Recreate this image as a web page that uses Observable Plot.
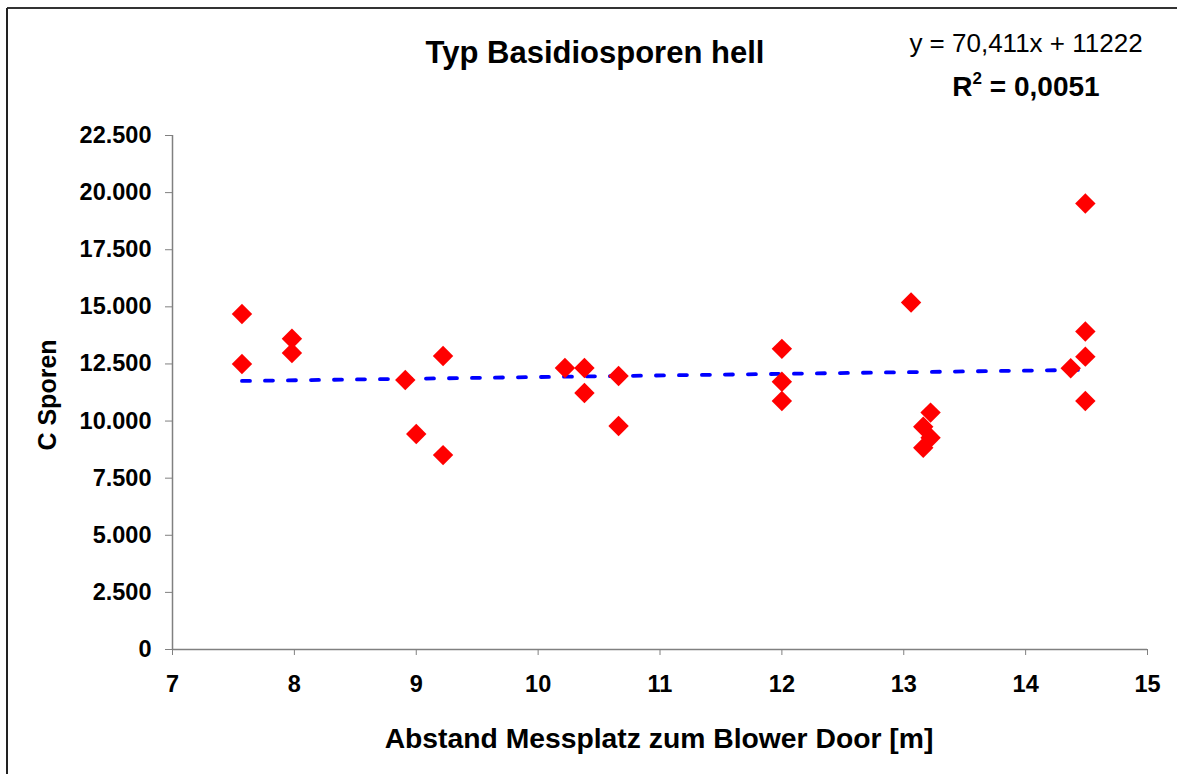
<!DOCTYPE html>
<html>
<head>
<meta charset="utf-8">
<script src="https://cdn.jsdelivr.net/npm/d3@7"></script>
<script src="https://cdn.jsdelivr.net/npm/@observablehq/plot@0.6"></script>
<style>
  html, body { margin: 0; padding: 0; background: #fff; }
  svg { display: block; }
</style>
</head>
<body>
<div id="chart"></div>
<script>
// Data
const abstand = [7.57, 7.57, 7.98, 7.98, 8.91, 9.0, 9.22, 9.22, 10.22, 10.38, 10.38, 10.66, 10.66,
                 12.0, 12.0, 12.0, 13.06, 13.16, 13.16, 13.22, 13.22, 14.37, 14.49, 14.49, 14.49, 14.49];
const sporen  = [14690, 12500, 13600, 12980, 11800, 9430, 8510, 12850, 12320, 12320, 11230, 11970, 9780,
                 13160, 11720, 10880, 15190, 9750, 8830, 10370, 9270, 12310, 19520, 13920, 12820, 10880];
const yTicks = [0, 2500, 5000, 7500, 10000, 12500, 15000, 17500, 20000, 22500];
const xTicks = [7, 8, 9, 10, 11, 12, 13, 14, 15];
const trendSlope = 70.411;
const trendIntercept = 11222;
const trendX = [7.57, 14.49];
const titleText = "Typ Basidiosporen hell";
const eqText = "y = 70,411x + 11222";
const r2Value = "0,0051";
const xLabel = "Abstand Messplatz zum Blower Door [m]";
const yLabel = "C Sporen";

const points = abstand.map((x, i) => ({x, y: sporen[i]}));
const trend = trendX.map(x => ({x, y: trendSlope * x + trendIntercept}));
const fmt = v => d3.format(",")(v).replace(/,/g, ".");

const W = 1177, H = 774;
const svg = Plot.plot({
  width: W,
  height: H,
  marginLeft: 172,
  marginRight: 30,
  marginTop: 135,
  marginBottom: 125,
  style: {fontFamily: "'Liberation Sans', Arial, sans-serif", background: "#fff", color: "#000"},
  x: {domain: [7, 15]},
  y: {domain: [0, 22500]},
  marks: [
    Plot.axisY({ticks: yTicks, tickFormat: fmt, tickSize: 7, tickPadding: 14, stroke: "#808080",
                fontSize: 23.5, fontWeight: "bold", label: null}),
    Plot.axisX({ticks: xTicks, tickFormat: d => String(d), tickSize: 6, tickPadding: 20, stroke: "#808080",
                fontSize: 23.5, fontWeight: "bold", label: null}),
    Plot.ruleX([7], {stroke: "#808080", strokeWidth: 1.5}),
    Plot.ruleY([0], {stroke: "#808080", strokeWidth: 1.5}),
    Plot.line(trend, {x: "x", y: "y", stroke: "#0000FF", strokeWidth: 3.8, strokeDasharray: "8,15"}),
    Plot.dot(points, {x: "x", y: "y", symbol: "diamond2", r: 9.2, fill: "#FF0000", stroke: "none"})
  ]
});

const s = d3.select(svg);
// chart border (top and left visible)
s.append("line").attr("x1", 7).attr("x2", W).attr("y1", 8).attr("y2", 8).attr("stroke", "#333").attr("stroke-width", 2);
s.append("line").attr("x1", 7).attr("x2", 7).attr("y1", 8).attr("y2", H).attr("stroke", "#222").attr("stroke-width", 2);

s.append("text").attr("x", 595).attr("y", 63).attr("text-anchor", "middle")
  .attr("font-size", 31).attr("font-weight", "bold").attr("fill", "#000").text(titleText);
s.append("text").attr("x", 1026).attr("y", 52).attr("text-anchor", "middle")
  .attr("font-size", 26).attr("fill", "#000").text(eqText);
const r2 = s.append("text").attr("x", 1026).attr("y", 96).attr("text-anchor", "middle")
  .attr("font-size", 28).attr("font-weight", "bold").attr("fill", "#000");
r2.append("tspan").text("R");
r2.append("tspan").attr("dy", -12).attr("font-size", 17).text("2");
r2.append("tspan").attr("dy", 12).text(" = " + r2Value);
s.append("text").attr("x", 659).attr("y", 748).attr("text-anchor", "middle")
  .attr("font-size", 28.3).attr("font-weight", "bold").attr("fill", "#000").text(xLabel);
s.append("text").attr("transform", "translate(56,395) rotate(-90)").attr("text-anchor", "middle")
  .attr("font-size", 25).attr("font-weight", "bold").attr("fill", "#000").text(yLabel);

document.getElementById("chart").appendChild(svg);
</script>
</body>
</html>
